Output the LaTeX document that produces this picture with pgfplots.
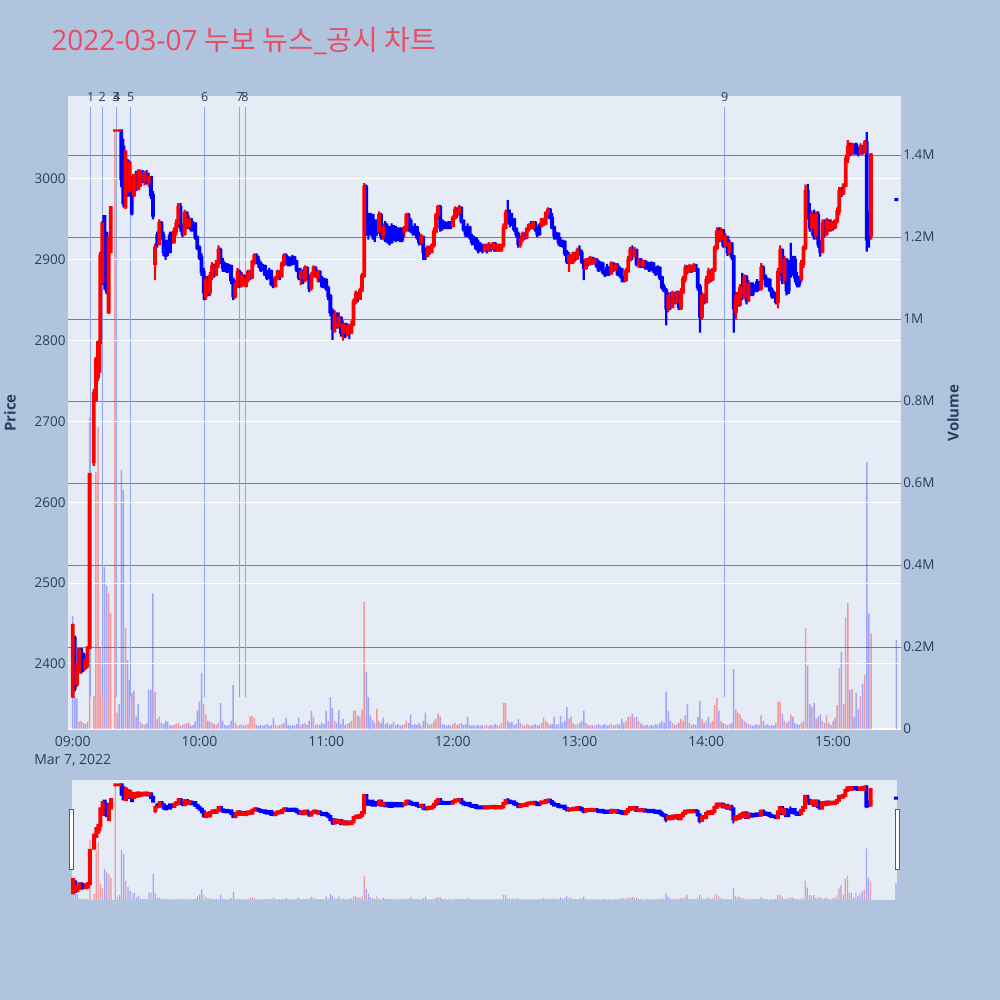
\documentclass[border=0pt]{standalone}
\usepackage{pgfplots}
\pgfplotsset{compat=1.18}
\usepackage{pgfplotstable}
\usepackage{fontspec}
\setmainfont{Open Sans}
\newfontfamily\kr{Noto Sans CJK KR}
\definecolor{paper}{RGB}{176,196,222}
\definecolor{plotbg}{RGB}{229,236,246}
\definecolor{tickc}{RGB}{42,63,95}
\definecolor{titlec}{RGB}{234,76,100}
\definecolor{newsc}{RGB}{140,164,236}
\definecolor{gridg}{RGB}{128,128,128}

% t open high low close volume(k shares; sign = bar colour: + red, - blue)
\pgfplotstableread{
t o h l c v
0 2360 2450 2358 2448 -276
1 2432 2435 2366 2370 -80
2 2375 2400 2372 2398 -75
3 2390 2420 2388 2418 18
4 2418 2420 2388 2392 20
5 2412 2414 2390 2395 -15
6 2395 2412 2392 2405 -12
7 2398 2422 2395 2420 18
8 2420 2636 2418 2635 761
10 2650 2740 2645 2735 80
11 2727 2780 2725 2777 627
12 2755 2800 2750 2798 736
13 2797 2910 2760 2905 200
14 2872 2948 2870 2945 150
15 2954 2955 2863 2870 -395
16 2933 2935 2858 2862 -350
17 2835 2930 2833 2928 331
18 2910 2966 2908 2965 283
20 3060 3060 3060 3060 1460
21 3060 3060 3060 3060 40
22 3060 3060 3060 3060 -61
23 3060 3060 2990 3000 -632
24 3040 3050 2965 2970 -583
25 2965 3035 2963 3034 246
26 3022 3025 2978 2980 -168
27 2985 3022 2982 3020 -120
28 3000 3004 2955 2958 88
29 2980 3006 2978 3005 -93
30 3005 3010 2985 2988 -30
31 2988 3012 2986 3008 -60
32 2992 3012 2990 3005 18
33 3005 3011 2995 2998 -12
34 2998 3010 2992 3006 10
35 3006 3011 2993 2996 -14
36 2996 3008 2990 3002 -95
37 3002 3004 2975 2980 -95
38 2980 2985 2950 2955 -331
39 2895 2920 2875 2915 90
40 2930 2935 2915 2920 -25
41 2920 2950 2918 2945 30
42 2945 2948 2925 2930 -15
43 2930 2935 2905 2910 -12
44 2920 2925 2900 2905 -20
45 2920 2925 2905 2910 -18
46 2930 2935 2908 2910 -10
47 2930 2935 2920 2922 -8
48 2922 2940 2920 2935 10
49 2935 2950 2930 2945 12
50 2945 2970 2940 2965 15
51 2965 2970 2935 2940 -8
52 2940 2945 2928 2932 -10
53 2932 2962 2930 2958 12
54 2958 2960 2938 2942 -14
55 2942 2955 2938 2950 15
56 2950 2952 2935 2938 -8
57 2945 2948 2935 2938 -10
58 2945 2946 2925 2928 -18
59 2928 2930 2912 2915 -45
60 2915 2918 2900 2903 -67
61 2903 2908 2880 2885 -137
62 2885 2890 2850 2860 61
63 2855 2880 2850 2875 35
64 2875 2880 2855 2860 -20
65 2860 2885 2855 2880 18
66 2880 2897 2875 2892 15
67 2892 2895 2878 2882 -12
68 2882 2900 2880 2895 10
69 2895 2918 2890 2912 15
70 2912 2915 2895 2898 -63
71 2898 2902 2885 2890 -20
72 2894 2897 2885 2888 -10
73 2894 2896 2884 2886 -8
74 2892 2895 2884 2886 -10
75 2892 2894 2870 2875 -20
76 2875 2878 2850 2855 -107
77 2855 2875 2852 2870 15
78 2870 2890 2865 2885 8
79 2885 2888 2865 2870 -10
80 2870 2885 2866 2880 12
81 2880 2882 2868 2872 -8
82 2868 2880 2866 2876 10
83 2875 2888 2872 2885 12
84 2885 2887 2875 2878 30
85 2878 2900 2876 2897 32
86 2897 2908 2893 2905 28
87 2905 2908 2895 2900 -10
88 2900 2905 2890 2895 -8
89 2895 2898 2885 2888 -10
90 2892 2895 2886 2888 -8
91 2892 2894 2880 2882 -10
92 2882 2886 2875 2878 -12
93 2886 2890 2876 2878 -8
94 2886 2888 2868 2870 -10
95 2874 2878 2865 2868 -27
96 2868 2880 2866 2878 10
97 2878 2888 2875 2885 8
98 2885 2887 2875 2880 -10
99 2880 2898 2878 2895 12
100 2895 2908 2892 2905 15
101 2905 2908 2893 2898 -27
102 2902 2905 2892 2895 -10
103 2902 2904 2892 2895 -8
104 2903 2906 2893 2895 -10
105 2903 2905 2895 2898 -8
106 2898 2900 2885 2888 -12
107 2888 2890 2875 2878 -28
108 2878 2890 2869 2885 10
109 2885 2888 2870 2875 -12
110 2875 2893 2872 2890 15
111 2890 2892 2875 2880 -10
112 2880 2882 2860 2865 -20
113 2865 2885 2862 2880 -44
114 2880 2893 2878 2890 30
115 2890 2892 2878 2882 -10
116 2878 2888 2872 2885 12
117 2885 2887 2872 2876 -10
118 2876 2880 2865 2868 -15
119 2875 2878 2865 2868 -12
120 2875 2877 2862 2865 -44
121 2865 2868 2850 2855 20
122 2855 2858 2830 2835 -78
123 2835 2840 2801 2815 -51
124 2812 2838 2810 2832 20
125 2832 2835 2815 2818 -15
126 2818 2835 2815 2828 -46
127 2828 2830 2805 2810 -12
128 2810 2825 2800 2820 -25
129 2820 2822 2803 2808 -10
130 2808 2822 2805 2818 12
131 2818 2820 2802 2810 -15
132 2810 2825 2808 2820 20
133 2820 2852 2818 2848 45
134 2848 2862 2845 2858 45
135 2858 2860 2848 2852 -33
136 2852 2865 2850 2862 30
137 2862 2884 2860 2880 48
138 2880 2995 2878 2990 310
139 2990 2993 2930 2950 -140
140 2950 2958 2925 2935 -78
141 2955 2958 2930 2935 -33
142 2955 2957 2925 2930 -22
143 2945 2950 2922 2930 -15
144 2945 2950 2930 2935 50
145 2935 2960 2932 2955 20
146 2955 2958 2925 2930 -15
147 2930 2945 2925 2940 -28
148 2940 2948 2922 2925 -12
149 2940 2945 2920 2925 -15
150 2940 2942 2918 2922 -10
151 2940 2945 2920 2922 -12
152 2940 2943 2925 2928 18
153 2928 2942 2922 2925 -10
154 2938 2940 2923 2925 -12
155 2938 2940 2922 2925 -8
156 2935 2940 2922 2925 -10
157 2935 2942 2928 2938 12
158 2938 2958 2935 2955 20
159 2955 2958 2935 2940 -15
160 2948 2952 2933 2938 -36
161 2938 2942 2930 2935 -10
162 2940 2945 2930 2935 -12
163 2940 2942 2925 2928 -10
164 2928 2935 2918 2922 -15
165 2922 2932 2918 2928 8
166 2928 2930 2900 2910 -20
167 2910 2915 2900 2905 -40
168 2905 2918 2903 2915 15
169 2915 2917 2906 2910 -10
170 2910 2920 2908 2918 12
171 2918 2940 2915 2935 20
172 2935 2958 2933 2955 25
173 2955 2968 2950 2965 38
174 2965 2968 2935 2940 -30
175 2948 2950 2936 2940 -12
176 2945 2948 2938 2940 -10
177 2945 2947 2938 2940 -8
178 2946 2948 2938 2940 -10
179 2946 2948 2938 2942 -8
180 2942 2955 2940 2952 12
181 2952 2966 2950 2962 15
182 2962 2965 2952 2958 -10
183 2958 2968 2955 2964 12
184 2964 2966 2945 2948 -15
185 2948 2950 2935 2938 -10
186 2938 2942 2928 2932 -12
187 2940 2945 2928 2932 -30
188 2940 2942 2925 2928 -10
189 2928 2932 2918 2922 -8
190 2926 2930 2918 2922 -10
191 2926 2928 2912 2915 -8
192 2915 2925 2908 2912 -10
193 2918 2922 2910 2912 -8
194 2918 2920 2908 2912 -10
195 2912 2920 2910 2918 8
196 2918 2920 2908 2912 -10
197 2912 2922 2910 2918 8
198 2918 2920 2910 2914 -10
199 2914 2922 2912 2920 8
200 2920 2922 2910 2912 -12
201 2912 2920 2910 2918 10
202 2918 2920 2910 2914 -8
203 2912 2920 2910 2918 15
204 2918 2945 2915 2940 63
205 2940 2962 2938 2958 63
206 2958 2974 2945 2950 -20
207 2955 2962 2940 2945 -15
208 2950 2958 2942 2945 -18
209 2950 2952 2935 2938 -10
210 2938 2940 2928 2932 -12
211 2932 2935 2915 2920 -25
212 2920 2930 2915 2925 15
213 2925 2935 2922 2932 10
214 2932 2934 2925 2928 -8
215 2928 2940 2926 2938 12
216 2938 2945 2935 2943 10
217 2943 2948 2938 2940 -8
218 2940 2948 2938 2946 10
219 2946 2948 2935 2938 -12
220 2938 2940 2928 2932 -8
221 2942 2945 2930 2932 -10
222 2942 2952 2940 2950 15
223 2945 2952 2942 2950 28
224 2945 2960 2943 2958 20
225 2958 2965 2952 2962 15
226 2962 2964 2950 2952 -10
227 2952 2958 2938 2940 -12
228 2940 2942 2925 2930 -30
229 2932 2935 2925 2930 -10
230 2932 2934 2918 2922 -12
231 2922 2928 2916 2918 -32
232 2922 2925 2915 2918 -15
233 2922 2924 2905 2908 -20
234 2908 2912 2895 2898 -54
235 2898 2910 2885 2905 25
236 2898 2907 2895 2905 30
237 2898 2910 2895 2908 15
238 2908 2910 2898 2902 -10
239 2902 2915 2900 2912 12
240 2912 2918 2905 2908 -15
241 2908 2912 2895 2898 -20
242 2898 2900 2875 2890 -44
243 2890 2902 2888 2900 15
244 2900 2902 2892 2895 -10
245 2895 2905 2893 2902 8
246 2902 2904 2894 2896 -10
247 2896 2903 2894 2900 8
248 2900 2902 2890 2893 -10
249 2893 2900 2885 2888 -12
250 2895 2898 2886 2888 -8
251 2895 2897 2882 2885 -10
252 2885 2888 2879 2882 -12
253 2890 2895 2880 2882 -8
254 2890 2892 2880 2883 -10
255 2883 2898 2882 2895 12
256 2895 2897 2885 2888 -8
257 2888 2896 2886 2893 10
258 2893 2896 2880 2883 -12
259 2888 2892 2878 2883 -10
260 2888 2890 2872 2878 -25
261 2878 2880 2872 2875 -15
262 2875 2890 2873 2886 20
263 2886 2905 2884 2900 30
264 2900 2916 2898 2912 30
265 2912 2918 2900 2905 -37
266 2905 2916 2903 2912 28
267 2912 2914 2892 2895 -30
268 2895 2902 2890 2900 20
269 2900 2902 2890 2893 -14
270 2893 2900 2890 2898 10
271 2898 2900 2888 2891 -8
272 2895 2898 2888 2891 -10
273 2895 2897 2885 2888 -8
274 2895 2898 2886 2888 -10
275 2895 2897 2884 2887 -8
276 2887 2892 2880 2883 -12
277 2890 2893 2881 2883 -10
278 2890 2892 2875 2878 -15
279 2878 2880 2863 2866 -20
280 2866 2870 2860 2862 -15
281 2862 2865 2819 2840 -91
282 2840 2860 2835 2855 -43
283 2855 2860 2838 2842 -20
284 2842 2862 2840 2858 15
285 2858 2860 2845 2848 -10
286 2848 2862 2845 2860 12
287 2860 2862 2838 2842 -15
288 2840 2865 2838 2860 25
289 2860 2880 2858 2876 20
290 2876 2894 2872 2890 33
291 2890 2893 2882 2886 -61
292 2886 2895 2884 2892 15
293 2892 2894 2884 2887 -10
294 2887 2896 2885 2893 12
295 2893 2895 2885 2888 -10
296 2888 2890 2862 2866 -30
297 2866 2870 2810 2830 -69
298 2830 2860 2826 2855 25
299 2855 2858 2845 2848 -15
300 2848 2880 2846 2875 20
301 2875 2890 2870 2885 -30
302 2885 2888 2872 2876 -15
303 2876 2890 2874 2888 20
304 2888 2918 2885 2915 58
305 2915 2940 2912 2935 76
306 2935 2940 2922 2926 -45
307 2926 2940 2922 2936 20
308 2936 2938 2915 2918 -15
309 2918 2933 2915 2928 12
310 2928 2930 2905 2910 -10
311 2910 2925 2906 2920 12
312 2920 2922 2900 2904 -15
313 2904 2906 2810 2840 -146
314 2835 2860 2826 2855 48
315 2855 2860 2842 2845 40
316 2845 2870 2842 2865 35
317 2865 2884 2850 2855 -25
318 2855 2882 2852 2878 20
319 2878 2881 2845 2850 -15
320 2850 2875 2848 2870 12
321 2870 2872 2855 2858 -10
322 2868 2872 2855 2858 -8
323 2868 2870 2860 2862 -10
324 2872 2876 2860 2862 -12
325 2872 2874 2862 2865 -10
326 2865 2896 2862 2890 33
327 2890 2893 2875 2879 -20
328 2879 2882 2866 2870 -10
329 2875 2878 2866 2870 -12
330 2875 2877 2860 2863 -8
331 2863 2866 2852 2856 -10
332 2858 2862 2852 2856 -8
333 2858 2860 2845 2848 -15
334 2848 2890 2840 2885 66
335 2885 2918 2880 2912 66
336 2912 2914 2870 2875 -37
337 2875 2905 2870 2900 20
338 2900 2902 2856 2862 -15
339 2895 2900 2858 2862 -20
340 2895 2921 2878 2882 35
341 2900 2905 2880 2882 -30
342 2900 2905 2872 2878 -15
343 2878 2885 2866 2870 -12
344 2876 2880 2866 2870 -10
345 2876 2900 2872 2895 15
346 2895 2918 2890 2915 20
347 2915 2993 2912 2985 246
348 2985 2994 2950 2960 -154
349 2960 2970 2935 2940 -61
350 2940 2960 2930 2955 54
351 2955 2962 2925 2930 -63
352 2930 2960 2925 2955 25
353 2955 2960 2915 2920 -30
354 2920 2925 2904 2910 -35
355 2910 2950 2908 2945 20
356 2945 2950 2928 2932 -15
357 2932 2952 2930 2948 33
358 2948 2950 2935 2938 -15
359 2938 2950 2935 2946 10
360 2946 2948 2936 2940 20
361 2940 2950 2938 2948 -28
362 2948 2965 2945 2960 58
363 2960 2990 2955 2985 148
364 2985 2990 2978 2982 -189
365 2982 2995 2980 2992 61
366 2992 3030 2990 3025 272
367 3025 3048 3020 3040 307
368 3040 3045 3028 3032 -95
369 3032 3045 3030 3042 98
370 3042 3044 3030 3035 -30
371 3042 3045 3030 3035 -88
372 3035 3040 3028 3032 -49
373 3032 3044 3030 3040 80
374 3040 3042 3030 3033 -111
375 3033 3048 3032 3045 132
376 3045 3058 2910 2925 -651
377 2935 2960 2915 2930 -282
378 2930 3032 2925 3030 233
390 2975 2975 2974 2974 -217
}\data

\pgfplotsset{
  tl/.style={font=\fontsize{6.75}{8.5}\selectfont, text=tickc},
  bare/.style={scale only axis, axis line style={draw=none}, major tick length=0pt,
     xtick=\empty, ytick=\empty, clip=false},
}

\begin{document}
\begin{tikzpicture}
\useasboundingbox (0pt,0pt) rectangle (500pt,500pt);
\fill[paper] (-2pt,-2pt) rectangle (502pt,502pt);
\node[anchor=base west, inner sep=0pt, text=titlec, font=\fontsize{14}{16}\selectfont] at (25.5pt,474.6pt) {2022-03-07 {\kr 누보 뉴스}\_{\kr 공시 차트}};
\node[rotate=90, inner sep=0pt, text=tickc, font=\bfseries\fontsize{7.5}{9}\selectfont] at (5pt,293.5pt) {Price};
\node[rotate=90, inner sep=0pt, text=tickc, font=\bfseries\fontsize{7.5}{9}\selectfont] at (476.5pt,293.5pt) {Volume};

% ---------- main: volume axis (background, grey grid, bars, news lines) ----------
\begin{axis}[
  at={(34pt,135pt)}, anchor=south west, scale only axis,
  width=416.5pt, height=317pt,
  xmin=-2.23, xmax=392.2, ymin=-2.4, ymax=1544,
  axis background/.style={fill=plotbg},
  axis line style={draw=none}, major tick length=0pt,
  xtick=\empty,
  ytick={0,200,...,1400},
  yticklabels={0,0.2M,0.4M,0.6M,0.8M,1M,1.2M,1.4M},
  yticklabel pos=right,
  yticklabel style={tl, inner xsep=1pt},
  ymajorgrids, grid style={gridg, line width=0.5pt},
  clip=false,
]
\draw[white, line width=1pt] (axis cs:-2.23,0) -- (axis cs:392.2,0);
\addplot[ybar, bar width=0.75pt, bar shift=0pt, draw=none, fill=red, fill opacity=0.35]
  table[x=t, y expr={\thisrow{v}>0 ? \thisrow{v} : nan}] {\data};
\addplot[ybar, bar width=0.75pt, bar shift=0pt, draw=none, fill=blue, fill opacity=0.3]
  table[x=t, y expr={\thisrow{v}<0 ? abs(\thisrow{v}) : nan}] {\data};
\addplot[newsc, line width=0.5pt] coordinates {(8.5,78) (8.5,1517)};
\addplot[newsc, line width=0.5pt] coordinates {(13.9,78) (13.9,1517)};
\addplot[newsc, line width=0.5pt] coordinates {(20.5,78) (20.5,1517)};
\addplot[newsc, line width=0.5pt] coordinates {(20.8,78) (20.8,1517)};
\addplot[newsc, line width=0.5pt] coordinates {(27.2,78) (27.2,1517)};
\addplot[newsc, line width=0.5pt] coordinates {(62.4,78) (62.4,1517)};
\addplot[newsc, line width=0.5pt] coordinates {(79.2,78) (79.2,1517)};
\addplot[newsc, line width=0.5pt] coordinates {(81.6,78) (81.6,1517)};
\addplot[newsc, line width=0.5pt] coordinates {(308.7,78) (308.7,1517)};
\foreach \lab/\xx in {1/8.5,2/14.0,3/20.5,4/20.8,5/27.5,6/62.5,7/79.2,8/81.6,9/308.7}{
  \edef\tmp{\noexpand\node[font=\noexpand\fontsize{6.3}{7}\noexpand\selectfont, text=tickc, inner sep=0pt] at (axis cs:\xx,1542) {\lab};}\tmp
}
\end{axis}

% ---------- main: price axis, wicks (stacked bars from low to high) ----------
\begin{axis}[
  at={(34pt,135pt)}, anchor=south west, scale only axis,
  width=416.5pt, height=317pt,
  xmin=-2.23, xmax=392.2, ymin=2318.3, ymax=3102.7,
  ybar stacked, bar width=1.1pt,
  axis line style={draw=none}, major tick length=0pt,
  xtick={0,60,...,360},
  xticklabels={{09:00\\Mar 7, 2022},10:00,11:00,12:00,13:00,14:00,15:00},
  xticklabel style={font=\fontsize{7}{9}\selectfont, text=tickc, align=center, inner ysep=3pt},
  ytick={2400,2500,...,3000},
  yticklabel style={tl, inner xsep=1pt},
  /pgf/number format/assume math mode=true,
  /pgf/number format/1000 sep={},
  ymajorgrids, grid style={white, line width=0.5pt},
  clip=false,
]
\addplot[draw=none, fill=none] table[x=t, y=l] {\data};
\addplot[draw=none, fill=red] table[x=t, y expr={\thisrow{c}>=\thisrow{o} ? \thisrow{h}-\thisrow{l} : 0}] {\data};
\addplot[draw=none, fill=blue] table[x=t, y expr={\thisrow{c}<\thisrow{o} ? \thisrow{h}-\thisrow{l} : 0}] {\data};
\end{axis}

% ---------- main: bodies ----------
\begin{axis}[
  at={(34pt,135pt)}, anchor=south west, bare,
  width=416.5pt, height=317pt,
  xmin=-2.23, xmax=392.2, ymin=2318.3, ymax=3102.7,
  ybar stacked, bar width=1.9pt,
]
\addplot[draw=none, fill=none] table[x=t, y expr={min(\thisrow{o},\thisrow{c})-1.4}] {\data};
\addplot[draw=none, fill=red] table[x=t, y expr={\thisrow{c}>=\thisrow{o} ? abs(\thisrow{c}-\thisrow{o})+2.8 : 0}] {\data};
\addplot[draw=none, fill=blue] table[x=t, y expr={\thisrow{c}<\thisrow{o} ? abs(\thisrow{c}-\thisrow{o})+2.8 : 0}] {\data};
\end{axis}

% ---------- range slider ----------
\begin{axis}[
  at={(36pt,50pt)}, anchor=south west, bare,
  width=412.5pt, height=60pt,
  xmin=-0.5, xmax=390.5, ymin=0, ymax=1523,
  axis background/.style={fill=plotbg},
]
\addplot[ybar, bar width=0.6pt, bar shift=0pt, draw=none, fill=red, fill opacity=0.35]
  table[x=t, y expr={\thisrow{v}>0 ? \thisrow{v} : nan}] {\data};
\addplot[ybar, bar width=0.6pt, bar shift=0pt, draw=none, fill=blue, fill opacity=0.3]
  table[x=t, y expr={\thisrow{v}<0 ? abs(\thisrow{v}) : nan}] {\data};
\end{axis}
\begin{axis}[
  at={(36pt,50pt)}, anchor=south west, bare,
  width=412.5pt, height=60pt,
  xmin=-0.5, xmax=390.5, ymin=2314, ymax=3092,
  ybar stacked, bar width=1pt,
]
\addplot[draw=none, fill=none] table[x=t, y=l] {\data};
\addplot[draw=none, fill=red] table[x=t, y expr={\thisrow{c}>=\thisrow{o} ? \thisrow{h}-\thisrow{l} : 0}] {\data};
\addplot[draw=none, fill=blue] table[x=t, y expr={\thisrow{c}<\thisrow{o} ? \thisrow{h}-\thisrow{l} : 0}] {\data};
\end{axis}
\begin{axis}[
  at={(36pt,50pt)}, anchor=south west, bare,
  width=412.5pt, height=60pt,
  xmin=-0.5, xmax=390.5, ymin=2314, ymax=3092,
  ybar stacked, bar width=2pt,
]
\addplot[draw=none, fill=none] table[x=t, y expr={min(\thisrow{o},\thisrow{c})-10}] {\data};
\addplot[draw=none, fill=red] table[x=t, y expr={\thisrow{c}>=\thisrow{o} ? abs(\thisrow{c}-\thisrow{o})+20 : 0}] {\data};
\addplot[draw=none, fill=blue] table[x=t, y expr={\thisrow{c}<\thisrow{o} ? abs(\thisrow{c}-\thisrow{o})+20 : 0}] {\data};
\end{axis}
\draw[fill=white, draw=gray!70!black, line width=0.5pt] (34.7pt,65pt) rectangle (36.85pt,95pt);
\draw[fill=white, draw=gray!70!black, line width=0.5pt] (447.65pt,65pt) rectangle (449.65pt,95pt);
\end{tikzpicture}
\end{document}
